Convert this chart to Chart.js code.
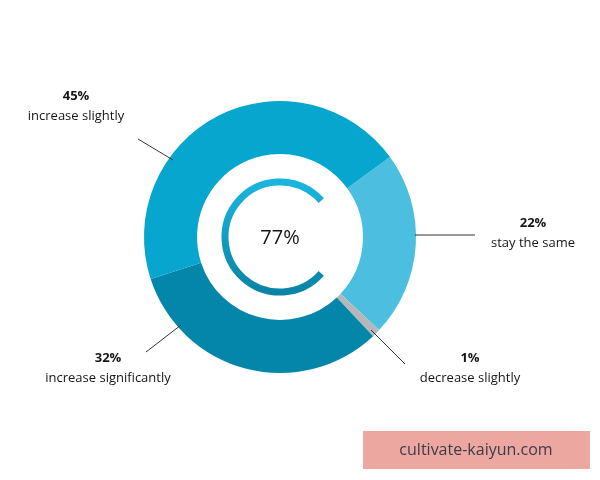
<!DOCTYPE html>
<html><head><meta charset="utf-8">
<script src="https://cdn.jsdelivr.net/npm/chart.js@4"></script>
<style>html,body{margin:0;padding:0;background:#fff}#wrap{width:600px;height:480px;position:relative}</style>
</head><body><div id="wrap"><canvas id="c" width="600" height="480"></canvas></div>
<script>
const categories = ["stay the same","decrease slightly","increase significantly","increase slightly"];
const values = [22,1,32,45];
const colors = ["#4cbfe0","#b5b7b9","#0386a9","#06a6cf"];
const centerValue = 77;
// label placement (x,y of text, line end points) per slice
const labelPos = [
  {tx:533,ty:223,align:"center",line:[[415,235],[475,235]]},
  {tx:470,ty:358,align:"center",line:[[371,330],[405,364]]},
  {tx:108,ty:358,align:"center",line:[[181,325],[146,352]]},
  {tx:76,ty:96,align:"center",line:[[173,160],[138,139]]}
];
const overlay = {
  id:"overlay",
  afterDraw(chart){
    const ctx = chart.ctx;
    const arc = chart.getDatasetMeta(0).data[0];
    const cx = arc.x, cy = arc.y;
    // inner C arc
    ctx.save();
    const g = ctx.createLinearGradient(0,cy-55,0,cy+55);
    g.addColorStop(0,"#1ab5de"); g.addColorStop(1,"#0a84a6");
    ctx.strokeStyle = g; ctx.lineWidth = 7;
    ctx.beginPath();
    const gap = (100-centerValue)/100*Math.PI*2;
    ctx.arc(cx,cy,55,gap/2,Math.PI*2-gap/2,false);
    ctx.stroke();
    ctx.fillStyle="#151515"; ctx.textAlign="center"; ctx.textBaseline="middle";
    ctx.font="500 20px 'Open Sans', sans-serif";
    ctx.fillText(centerValue+"%",cx,cy+1);
    // labels
    ctx.strokeStyle="#333"; ctx.lineWidth=1;
    labelPos.forEach((p,i)=>{
      ctx.beginPath(); ctx.moveTo(p.line[0][0],p.line[0][1]); ctx.lineTo(p.line[1][0],p.line[1][1]); ctx.stroke();
      ctx.fillStyle="#151515"; ctx.textAlign=p.align;
      ctx.font="bold 13px 'Open Sans', sans-serif";
      ctx.fillText(values[i]+"%",p.tx,p.ty);
      ctx.font="13px 'Open Sans', sans-serif";
      ctx.fillText(categories[i],p.tx,p.ty+20);
    });
    // watermark
    ctx.fillStyle="#eca7a0"; ctx.fillRect(363,431,227,38);
    ctx.fillStyle="#3c3c4a"; ctx.font="16px 'Open Sans', sans-serif"; ctx.textAlign="center";
    ctx.fillText("cultivate-kaiyun.com",476,450);
    ctx.restore();
  }
};
new Chart(document.getElementById("c"),{
  type:"doughnut",
  data:{labels:categories,datasets:[{data:values,backgroundColor:colors,borderWidth:0}]},
  options:{
    responsive:false,animation:false,rotation:54,cutout:"61%",
    layout:{padding:{top:101,bottom:107,left:144,right:184}},
    plugins:{legend:{display:false},tooltip:{enabled:false}}
  },
  plugins:[overlay]
});
</script></body></html>
